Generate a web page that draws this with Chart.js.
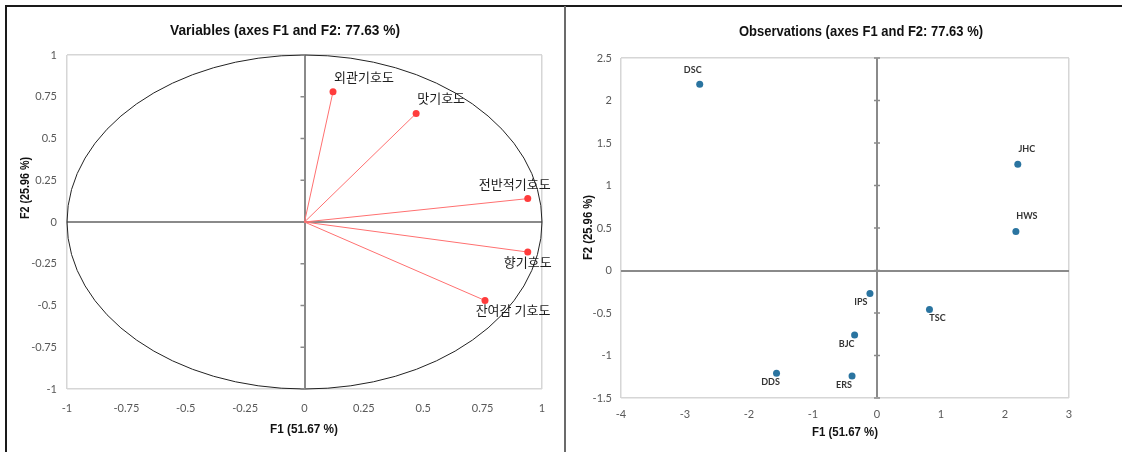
<!DOCTYPE html>
<html>
<head>
<meta charset="utf-8">
<script src="https://cdn.jsdelivr.net/npm/chart.js@4"></script>
<style>
  html, body { margin: 0; padding: 0; background: #fff; }
  body { width: 1122px; height: 452px; position: relative; overflow: hidden; }
  .frame { position: absolute; left: 5px; top: 5px; width: 1117px; height: 447px;
           border-top: 2px solid #1a1a1a; border-left: 2px solid #1a1a1a; box-sizing: border-box; }
  .divider { position: absolute; left: 564px; top: 6px; width: 2px; height: 446px; background: #6b6b6b; }
  #leftWrap { position: absolute; left: 0; top: 0; width: 565px; height: 452px; }
  #rightWrap { position: absolute; left: 565px; top: 0; width: 557px; height: 452px; }
</style>
</head>
<body>
<div class="frame"></div>
<div class="divider"></div>
<div id="leftWrap"><canvas id="varChart"></canvas></div>
<div id="rightWrap"><canvas id="obsChart"></canvas></div>
<script>
// Variables (correlation circle)
const varNames = ['외관기호도', '맛기호도', '전반적기호도', '향기호도', '잔여감 기호도'];
const varF1 = [0.12, 0.47, 0.94, 0.94, 0.76];
const varF2 = [0.78, 0.65, 0.14, -0.18, -0.47];

// Observations
const obsNames = ['DSC', 'JHC', 'HWS', 'IPS', 'TSC', 'BJC', 'DDS', 'ERS'];
const obsF1 = [-2.77, 2.20, 2.17, -0.11, 0.82, -0.35, -1.57, -0.39];
const obsF2 = [2.19, 1.25, 0.46, -0.27, -0.46, -0.76, -1.21, -1.24];

// label placement (px offsets from the point)
const varLabelShift = [[31, -15], [25, -15], [-13, -15], [0, 10], [28, 10]];
const obsLabelShift = [[-7, -14], [9, -15], [11, -15], [-9, 9], [8, 8], [-8, 9], [-6, 9], [-8, 9]];

const TICK_FONT = { family: 'Lato, "Open Sans", sans-serif', size: 11 };
const TICK_COLOR = '#595959';

Chart.defaults.animation = false;

function gridOpts(min, max) {
  return {
    drawTicks: false,
    color: c => c.tick.value === 0 ? '#8a8a8a' : ((c.tick.value === min || c.tick.value === max) ? '#d6d6d6' : 'rgba(0,0,0,0)'),
    lineWidth: c => c.tick.value === 0 ? 2 : 1.5
  };
}

function makeText(items) {
  return {
    id: 'panelText',
    afterDraw(chart) {
      const ctx = chart.ctx;
      ctx.save();
      ctx.fillStyle = '#111';
      ctx.textAlign = 'center';
      ctx.textBaseline = 'middle';
      items.forEach(t => {
        ctx.font = t.font;
        ctx.save();
        ctx.translate(t.x, t.y);
        if (t.rotate) ctx.rotate(t.rotate);
        ctx.fillText(t.text, 0, 0, t.width);
        ctx.restore();
      });
      ctx.restore();
    }
  };
}

// small tick marks on the zero axis
function zeroTicks(left, right) {
  return {
    id: 'zeroTicks',
    beforeDatasetsDraw(chart) {
      const { ctx, scales: { x, y } } = chart;
      const x0 = x.getPixelForValue(0);
      ctx.save();
      ctx.strokeStyle = '#8a8a8a';
      ctx.lineWidth = 1.5;
      y.ticks.forEach(t => {
        const py = y.getPixelForValue(t.value);
        ctx.beginPath();
        ctx.moveTo(x0 - left, py);
        ctx.lineTo(x0 + right, py);
        ctx.stroke();
      });
      ctx.restore();
    }
  };
}

const circlePlugin = {
  id: 'unitCircle',
  beforeDatasetsDraw(chart) {
    const { ctx, scales: { x, y } } = chart;
    const cx = x.getPixelForValue(0), cy = y.getPixelForValue(0);
    const rx = x.getPixelForValue(1) - cx, ry = cy - y.getPixelForValue(1);
    ctx.save();
    ctx.strokeStyle = '#222';
    ctx.lineWidth = 1;
    ctx.beginPath();
    ctx.ellipse(cx, cy, rx, ry, 0, 0, Math.PI * 2);
    ctx.stroke();
    ctx.restore();
  }
};

const varLabels = {
  id: 'varLabels',
  afterDatasetsDraw(chart) {
    const ctx = chart.ctx;
    ctx.save();
    ctx.font = '13px "Noto Sans CJK KR", sans-serif';
    ctx.fillStyle = '#1e1e1e';
    ctx.textAlign = 'center';
    ctx.textBaseline = 'middle';
    varNames.forEach((n, i) => {
      const pt = chart.getDatasetMeta(i).data[1];
      const s = varLabelShift[i];
      ctx.fillText(n, pt.x + s[0], pt.y + s[1]);
    });
    ctx.restore();
  }
};

const obsLabels = {
  id: 'obsLabels',
  afterDatasetsDraw(chart) {
    const ctx = chart.ctx;
    ctx.save();
    ctx.font = 'bold 9px Lato, "Open Sans", sans-serif';
    ctx.fillStyle = '#333';
    ctx.textAlign = 'center';
    ctx.textBaseline = 'middle';
    chart.getDatasetMeta(0).data.forEach((pt, i) => {
      const s = obsLabelShift[i];
      ctx.fillText(obsNames[i], pt.x + s[0], pt.y + s[1]);
    });
    ctx.restore();
  }
};

const TITLE_FONT = 'bold 15px "Liberation Sans", Arial, sans-serif';
const AXIS_FONT = 'bold 13px "Liberation Sans", Arial, sans-serif';

new Chart(document.getElementById('varChart'), {
  type: 'scatter',
  data: {
    datasets: varNames.map((n, i) => ({
      label: n,
      data: [{ x: 0, y: 0 }, { x: varF1[i], y: varF2[i] }],
      showLine: true,
      borderColor: '#ff7070',
      borderWidth: 1,
      pointRadius: c => c.dataIndex === 0 ? 0 : 3.5,
      pointBackgroundColor: '#ff3c3c',
      pointBorderWidth: 0
    }))
  },
  options: {
    responsive: true,
    maintainAspectRatio: false,
    layout: { padding: { left: 17, right: 23, top: 55, bottom: 23 } },
    plugins: { legend: { display: false }, tooltip: { enabled: false }, title: { display: false } },
    scales: {
      x: {
        type: 'linear', min: -1, max: 1,
        afterFit: s => { s.height = 40; },
        border: { display: false },
        grid: gridOpts(-1, 1),
        ticks: { stepSize: 0.25, padding: 13, font: TICK_FONT, color: TICK_COLOR, maxRotation: 0, callback: v => String(v) }
      },
      y: {
        type: 'linear', min: -1, max: 1,
        afterFit: s => { s.width = 50; },
        border: { display: false },
        grid: gridOpts(-1, 1),
        ticks: { stepSize: 0.25, padding: 10, font: TICK_FONT, color: TICK_COLOR, callback: v => String(v) }
      }
    }
  },
  plugins: [
    circlePlugin, zeroTicks(4, 0), varLabels,
    makeText([
      { text: 'Variables (axes F1 and F2: 77.63 %)', x: 285, y: 31, font: TITLE_FONT, width: 230 },
      { text: 'F1 (51.67 %)', x: 304, y: 429, font: AXIS_FONT, width: 68 },
      { text: 'F2 (25.96 %)', x: 25, y: 188, font: AXIS_FONT, width: 62, rotate: -Math.PI / 2 }
    ])
  ]
});

new Chart(document.getElementById('obsChart'), {
  type: 'scatter',
  data: {
    datasets: [{
      label: 'Observations',
      data: obsNames.map((n, i) => ({ x: obsF1[i], y: obsF2[i] })),
      pointRadius: 3.5,
      pointBackgroundColor: '#2a74a0',
      pointBorderWidth: 0
    }]
  },
  options: {
    responsive: true,
    maintainAspectRatio: false,
    layout: { padding: { left: 6, right: 53, top: 58, bottom: 14 } },
    plugins: { legend: { display: false }, tooltip: { enabled: false }, title: { display: false } },
    scales: {
      x: {
        type: 'linear', min: -4, max: 3,
        afterFit: s => { s.height = 40; },
        border: { display: false },
        grid: gridOpts(-4, 3),
        ticks: { stepSize: 1, padding: 10, font: TICK_FONT, color: TICK_COLOR, maxRotation: 0, callback: v => String(v) }
      },
      y: {
        type: 'linear', min: -1.5, max: 2.5,
        afterFit: s => { s.width = 50; },
        border: { display: false },
        grid: gridOpts(-1.5, 2.5),
        ticks: { stepSize: 0.5, padding: 9, font: TICK_FONT, color: TICK_COLOR, callback: v => String(v) }
      }
    }
  },
  plugins: [
    zeroTicks(3, 3), obsLabels,
    makeText([
      { text: 'Observations (axes F1 and F2: 77.63 %)', x: 296, y: 32, font: TITLE_FONT, width: 244 },
      { text: 'F1 (51.67 %)', x: 280, y: 432, font: AXIS_FONT, width: 66 },
      { text: 'F2 (25.96 %)', x: 23, y: 227.5, font: AXIS_FONT, width: 65, rotate: -Math.PI / 2 }
    ])
  ]
});
</script>
</body>
</html>
